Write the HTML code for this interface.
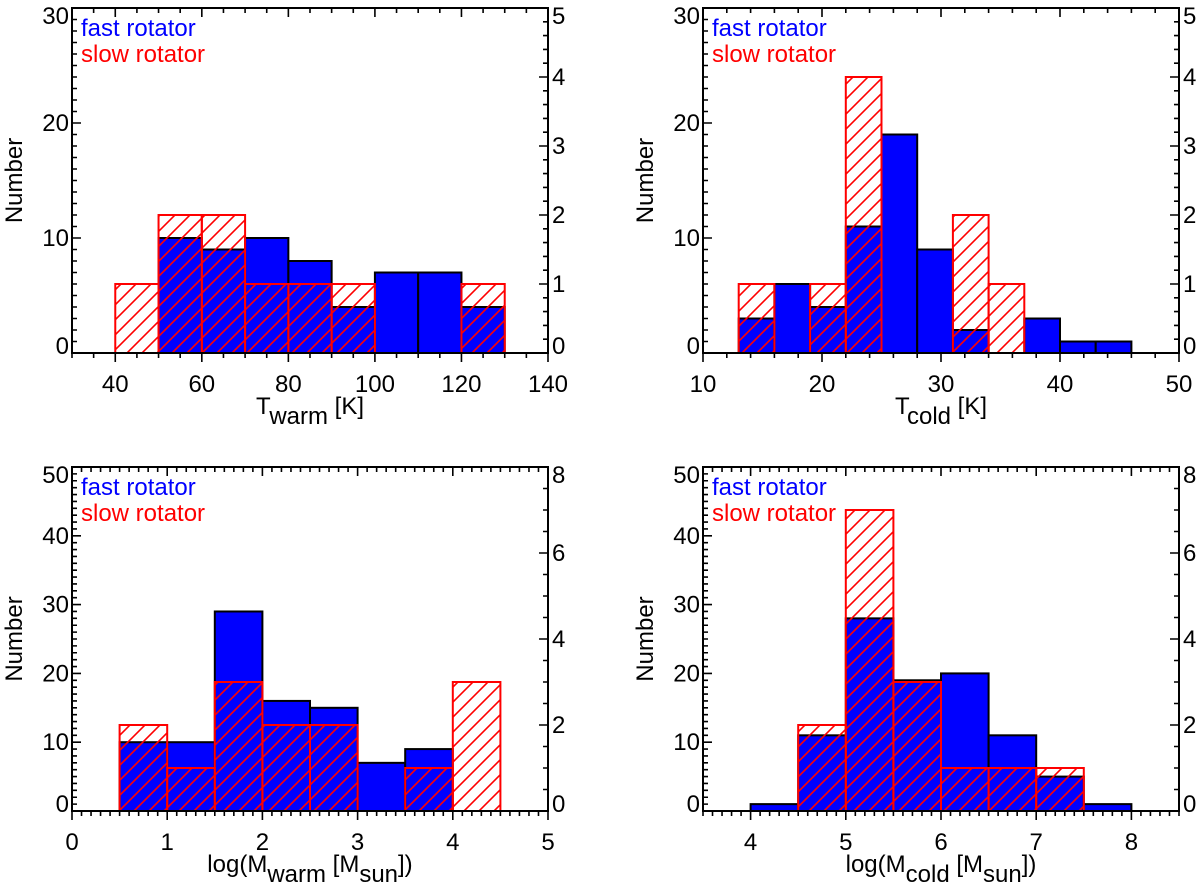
<!DOCTYPE html>
<html><head><meta charset="utf-8"><style>
html,body{margin:0;padding:0;background:#fff;}
svg{display:block;font-family:"Liberation Sans",Arial,sans-serif;}
</style></head><body>
<svg id="fig" width="1200" height="892" viewBox="0 0 1200 892">
<defs>
<pattern id="hatch" patternUnits="userSpaceOnUse" width="15" height="15">
<path d="M-2,17 L17,-2 M-4,4 L4,-4 M11,19 L19,11" stroke="#ff0000" stroke-width="1.6"/>
</pattern>
</defs>
</svg>
<script>
// Panel A: T_warm
const twarmEdges = [40,50,60,70,80,90,100,110,120,130];
const twarmFast = [0,10,9,10,8,4,7,7,4];
const twarmSlow = [1,2,2,1,1,1,0,0,1];
// Panel B: T_cold
const tcoldEdges = [13,16,19,22,25,28,31,34,37,40,43,46];
const tcoldFast = [3,6,4,11,19,9,2,0,3,1,1];
const tcoldSlow = [1,0,1,4,0,0,2,1,0,0,0];
// Panel C: log M_warm
const mwarmEdges = [0.5,1,1.5,2,2.5,3,3.5,4,4.5];
const mwarmFast = [10,10,29,16,15,7,9,0];
const mwarmSlow = [2,1,3,2,2,0,1,3];
// Panel D: log M_cold
const mcoldEdges = [4,4.5,5,5.5,6,6.5,7,7.5,8];
const mcoldFast = [1,11,28,19,20,11,5,1];
const mcoldSlow = [0,2,7,3,1,1,1,0];
// Tick labels
const twarmXTicks = [40,60,80,100,120,140];
const tcoldXTicks = [10,20,30,40,50];
const mwarmXTicks = [0,1,2,3,4,5];
const mcoldXTicks = [4,5,6,7,8];
const topYTicks = [0,10,20,30];
const topY2Ticks = [0,1,2,3,4,5];
const botYTicks = [0,10,20,30,40,50];
const botY2Ticks = [0,2,4,6,8];

const NS = "http://www.w3.org/2000/svg";
const svg = document.getElementById('fig');
const FS = 24;
function mk(tag, attrs, parent){
  const e = document.createElementNS(NS, tag);
  for (const k in attrs) e.setAttribute(k, attrs[k]);
  (parent||svg).appendChild(e);
  return e;
}

function panel(o){
  const g = mk('g', {});
  
  
  const sx = v => o.L + (v - o.xmin) / (o.xmax - o.xmin) * (o.R - o.L);
  const sy = v => o.B - v / o.ymax * (o.B - o.T);
  const sy2 = v => o.B - v / o.y2max * (o.B - o.T);
  for (let i = 0; i < o.fast.length; i++) {
    if (o.fast[i] <= 0) continue;
    const x0 = sx(o.edges[i]), x1 = sx(o.edges[i+1]), y = sy(o.fast[i]);
    const r = mk('rect', {x:x0, y:y, width:x1-x0, height:o.B-y, fill:'#0000ff', stroke:'#000', 'stroke-width':2}, g);
    
    
  }
  for (let i = 0; i < o.slow.length; i++) {
    if (o.slow[i] <= 0) continue;
    const x0 = sx(o.edges[i]), x1 = sx(o.edges[i+1]), y = sy2(o.slow[i]);
    const r = mk('rect', {x:x0, y:y, width:x1-x0, height:o.B-y, fill:'url(#hatch)', stroke:'#ff0000', 'stroke-width':2}, g);
    
    
  }
  const f = mk('rect', {x:o.L, y:o.T, width:o.R-o.L, height:o.B-o.T, fill:'none', stroke:'#000', 'stroke-width':2}, g);
  
  
  let d = '';
  for (let v = o.xmin; v <= o.xmax + 1e-9; v += o.xminor) {
    const x = sx(v);
    const isMaj = Math.abs((v - o.xmajBase)/o.xmaj - Math.round((v - o.xmajBase)/o.xmaj)) < 1e-6;
    const len = isMaj ? 9 : 5;
    d += `M${x},${o.B} L${x},${o.B+len} M${x},${o.T} L${x},${o.T+len} `;
  }
  for (let v = 0; v <= o.ymax + 1e-9; v += o.yminor) {
    const y = sy(v);
    const isMaj = Math.abs(v/o.ymaj - Math.round(v/o.ymaj)) < 1e-6;
    d += `M${o.L},${y} L${o.L+(isMaj?9:5)},${y} `;
  }
  for (let v = 0; v <= o.y2max + 1e-9; v += o.y2minor) {
    const y = sy2(v);
    const isMaj = Math.abs(v/o.y2maj - Math.round(v/o.y2maj)) < 1e-6;
    d += `M${o.R},${y} L${o.R-(isMaj?9:5)},${y} `;
  }
  mk('path', {d:d, stroke:'#000', 'stroke-width':1.6, fill:'none'}, g);
  o.xticks.forEach(v => {
    const t = mk('text', {x:sx(v), y:o.B+39, 'font-size':FS, 'text-anchor':'middle'}, g);
    t.textContent = v;
    
    
  });
  o.yticks.forEach((v, i) => {
    let y = sy(v) + 8;
    if (i === 0) y -= 7;
    if (i === o.yticks.length - 1) y += 8;
    const t = mk('text', {x:o.L-3, y:y, 'font-size':FS, 'text-anchor':'end'}, g);
    t.textContent = v;
    
    
  });
  o.y2ticks.forEach((v, i) => {
    let y = sy2(v) + 8;
    if (i === 0) y -= 7;
    if (i === o.y2ticks.length - 1) y += 8;
    const t = mk('text', {x:o.R+4, y:y, 'font-size':FS, 'text-anchor':'start'}, g);
    t.textContent = v;
    
    
  });
  const cy = (o.T + o.B)/2;
  const yt = mk('text', {x:o.ytx, y:cy, 'font-size':FS, 'text-anchor':'middle', transform:`rotate(-90 ${o.ytx} ${cy})`}, g);
  yt.textContent = 'Number';
  
  
  const xt = mk('text', {x:(o.L+o.R)/2, y:o.B+61, 'font-size':FS, 'text-anchor':'middle'}, g);
  xt.innerHTML = o.xtitle;
  
  
  const l1 = mk('text', {x:o.L+9, y:o.T+28, 'font-size':FS, fill:'#0000ff'}, g);
  l1.textContent = 'fast rotator';
  
  
  const l2 = mk('text', {x:o.L+9, y:o.T+54, 'font-size':FS, fill:'#ff0000'}, g);
  l2.textContent = 'slow rotator';
  
  
}

panel({name:'panel-t-warm', L:72, R:548, T:8, B:353, xmin:30, xmax:140, xminor:5, xmaj:20, xmajBase:40,
  ymax:30, ymaj:10, yminor:1, y2max:5, y2maj:1, y2minor:0.2,
  edges:twarmEdges, fast:twarmFast, slow:twarmSlow, xticks:twarmXTicks, yticks:topYTicks, y2ticks:topY2Ticks, ytx:22,
  xtitle:'T<tspan dy="10">warm</tspan><tspan dy="-10"> [K]</tspan>'});
panel({name:'panel-t-cold', L:703, R:1179, T:8, B:353, xmin:10, xmax:50, xminor:2, xmaj:10, xmajBase:10,
  ymax:30, ymaj:10, yminor:1, y2max:5, y2maj:1, y2minor:0.2,
  edges:tcoldEdges, fast:tcoldFast, slow:tcoldSlow, xticks:tcoldXTicks, yticks:topYTicks, y2ticks:topY2Ticks, ytx:653,
  xtitle:'T<tspan dy="10">cold</tspan><tspan dy="-10"> [K]</tspan>'});
panel({name:'panel-m-warm', L:72, R:548, T:467, B:811, xmin:0, xmax:5, xminor:0.1, xmaj:1, xmajBase:0,
  ymax:50, ymaj:10, yminor:1, y2max:8, y2maj:2, y2minor:0.5,
  edges:mwarmEdges, fast:mwarmFast, slow:mwarmSlow, xticks:mwarmXTicks, yticks:botYTicks, y2ticks:botY2Ticks, ytx:22,
  xtitle:'log(M<tspan dy="10">warm</tspan><tspan dy="-10"> [M</tspan><tspan dy="10">sun</tspan><tspan dy="-10">])</tspan>'});
panel({name:'panel-m-cold', L:703, R:1179, T:467, B:811, xmin:3.5, xmax:8.5, xminor:0.1, xmaj:1, xmajBase:4,
  ymax:50, ymaj:10, yminor:1, y2max:8, y2maj:2, y2minor:0.5,
  edges:mcoldEdges, fast:mcoldFast, slow:mcoldSlow, xticks:mcoldXTicks, yticks:botYTicks, y2ticks:botY2Ticks, ytx:653,
  xtitle:'log(M<tspan dy="10">cold</tspan><tspan dy="-10"> [M</tspan><tspan dy="10">sun</tspan><tspan dy="-10">])</tspan>'});
</script>
</body></html>
